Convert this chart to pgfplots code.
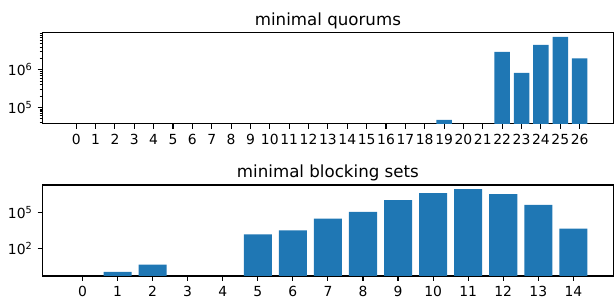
\documentclass[border=0pt]{standalone}
\usepackage{pgfplots}
\pgfplotsset{compat=1.18}
\usepackage{fontspec}
\setmainfont{DejaVu Sans}
\definecolor{mplblue}{HTML}{1F77B4}
\pgfplotsset{
  every axis/.append style={
    scale only axis, width=411pt,
    anchor=north west,
    axis line style={line width=0.8pt},
    every tick/.style={line width=0.8pt, black},
    major tick length=3.5pt, minor tick length=2pt,
    tick align=outside, tick pos=left,
    /pgf/number format/assume math mode=true,
    ticklabel style={font=\fontsize{10}{12}\selectfont},
    xticklabel style={inner sep=0pt, yshift=-3.5pt, anchor=north},
    yticklabel style={inner sep=0pt, xshift=-3.5pt, anchor=east},
    every axis title shift=0pt,
    title style={font=\fontsize{12}{14}\selectfont, at={(0.5,1)}, anchor=base, yshift=5.5pt, inner sep=0pt},
  }
}
\begin{document}
\begin{tikzpicture}
\useasboundingbox (0,0) rectangle (442.08pt,-215.28pt);
\begin{axis}[ymode=log, log origin=infty, at={(30.6pt,-23.5pt)}, height=65.7pt,
  xmin=-1.74, xmax=27.74, ymin=3.65e4, ymax=9.66e6,
  xtick={0,1,...,26},
  ytick={1e5,1e6}, yticklabels={10\textsuperscript{5},10\textsuperscript{6}},
  minor ytick={4e4,5e4,6e4,7e4,8e4,9e4,2e5,3e5,4e5,5e5,6e5,7e5,8e5,9e5,2e6,3e6,4e6,5e6,6e6,7e6,8e6,9e6},
  title={minimal quorums}]
\addplot[ybar, bar width=0.8, bar shift=0pt, fill=mplblue, draw=none]
  coordinates {(19,4.7e4) (22,3.0e6) (23,8.3e5) (24,4.6e6) (25,7.5e6) (26,2.0e6)};
\end{axis}
\begin{axis}[ymode=log, log origin=infty, at={(30.6pt,-133.2pt)}, height=65.5pt,
  xmin=-1.14, xmax=15.14, ymin=0.447, ymax=2.24e7,
  xtick={0,1,...,14},
  ytick={1e2,1e5}, yticklabels={10\textsuperscript{2},10\textsuperscript{5}},
  title={minimal blocking sets}]
\addplot[ybar, bar width=0.8, bar shift=0pt, fill=mplblue, draw=none]
  coordinates {(1,1) (2,4) (5,1500) (6,3200) (7,32000) (8,1.2e5) (9,1.2e6) (10,4.6e6) (11,1.0e7) (12,3.8e6) (13,4.6e5) (14,4600)};
\end{axis}
\end{tikzpicture}
\end{document}
